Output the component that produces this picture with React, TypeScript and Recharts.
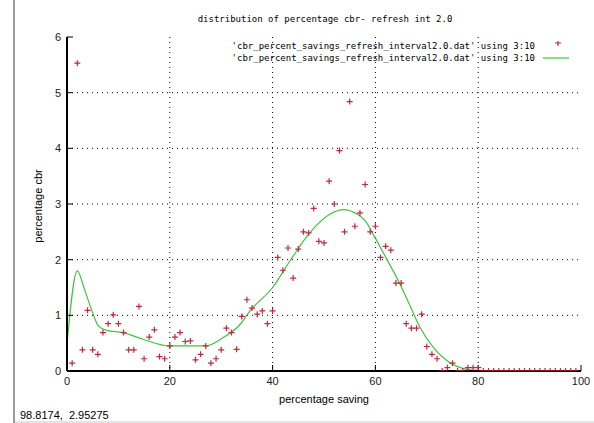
import React from 'react';
import {
  CartesianGrid,
  ComposedChart,
  Legend,
  Line,
  Scatter,
  XAxis,
  YAxis,
} from 'recharts';

// measured points, column 3 vs column 10
const pointX = [
  1, 2, 3, 4, 5, 6, 7, 8, 9, 10, 11, 12, 13, 14, 15, 16, 17, 18, 19, 20,
  21, 22, 23, 24, 25, 26, 27, 28, 29, 30, 31, 32, 33, 34, 35, 36, 37, 38, 39, 40,
  41, 42, 43, 44, 45, 46, 47, 48, 49, 50, 51, 52, 53, 54, 55, 56, 57, 58, 59, 60,
  61, 62, 63, 64, 65, 66, 67, 68, 69, 70, 71, 72, 73, 74, 75, 76, 77, 78, 79, 80,
  81, 82, 83, 84, 85, 86, 87, 88, 89, 90, 91, 92, 93, 94, 95, 96, 97, 98, 99,
];
const pointY = [
  0.14, 5.53, 0.38, 1.09, 0.38, 0.3, 0.69, 0.85, 1.01, 0.85, 0.69, 0.38, 0.38, 1.16, 0.22, 0.61, 0.74, 0.26, 0.22, 0.45,
  0.61, 0.69, 0.53, 0.54, 0.2, 0.3, 0.45, 0.14, 0.22, 0.38, 0.77, 0.69, 0.39, 0.98, 1.28, 1.13, 1.02, 1.08, 0.85, 1.08,
  2.04, 1.81, 2.21, 1.67, 2.19, 2.5, 2.48, 2.92, 2.33, 2.3, 3.41, 3.0, 3.96, 2.5, 4.84, 2.6, 2.84, 3.35, 2.5, 2.6,
  2.04, 2.24, 2.17, 1.58, 1.58, 0.85, 0.77, 0.77, 1.02, 0.44, 0.3, 0.22, 0, 0.06, 0.14, 0, 0, 0.06, 0.06, 0.06,
  0, 0, 0, 0, 0, 0, 0, 0, 0, 0, 0, 0, 0, 0, 0, 0, 0, 0, 0,
];

// smoothed curve
const curveX = [
  0, 2, 3.5, 5.1, 6.1, 7.7, 10.9, 14.8, 20, 23.3, 27, 30.4, 33.7, 35.6, 40, 43.4,
  47.3, 51.2, 53.8, 56.4, 58, 59.9, 62.2, 64.8, 66.7, 68.7, 71.3, 74.5, 77.8, 79.6, 82, 100,
];
const curveY = [
  0.48, 1.8, 1.44, 1.02, 0.81, 0.73, 0.69, 0.57, 0.45, 0.45, 0.45, 0.6, 0.84, 1.08, 1.5, 1.98,
  2.49, 2.82, 2.9, 2.82, 2.7, 2.4, 2.01, 1.56, 1.18, 0.78, 0.42, 0.15, 0.03, 0.01, 0, 0,
];

const xTicks = [0, 20, 40, 60, 80, 100];
const yTicks = [0, 1, 2, 3, 4, 5, 6];

const seriesName = "'cbr_percent_savings_refresh_interval2.0.dat' using 3:10";
const title = 'distribution of percentage cbr- refresh int 2.0';
const statusText = '98.8174,  2.95275';

const red = '#c0283c';
const green = '#3ec43e';
const mono = '"DejaVu Sans Mono", monospace';
const sans = '"Liberation Sans", Arial, sans-serif';

const points = pointX.map((x, i) => ({ x, y: pointY[i] }));
const curve = curveX.map((x, i) => ({ x, y: curveY[i] }));

function Plus(props: any) {
  const { cx, cy } = props;
  if (cx == null || cy == null) return null;
  return (
    <path
      d={`M${cx - 3},${cy}H${cx + 3}M${cx},${cy - 3}V${cy + 3}`}
      stroke={red}
      strokeWidth={1.2}
      fill="none"
    />
  );
}

function KeyBox() {
  const row = (mark: React.ReactNode) => (
    <div style={{ display: 'flex', alignItems: 'center', height: 11.7 }}>
      <span style={{ fontFamily: mono, fontSize: 9, color: '#000', whiteSpace: 'pre' }}>
        {seriesName}
      </span>
      <svg width={36} height={10} style={{ marginLeft: 3 }}>
        {mark}
      </svg>
    </div>
  );
  return (
    <div style={{ display: 'flex', flexDirection: 'column', alignItems: 'flex-end' }}>
      {row(<path d="M17,2H23M20,-1V5" stroke={red} strokeWidth={1.2} />)}
      {row(<line x1={5} x2={31} y1={5} y2={5} stroke={green} strokeWidth={1.2} />)}
    </div>
  );
}

const tickStyle = { fontFamily: sans, fontSize: 11, fill: '#222' };

export default function App() {
  return (
    <div
      style={{
        position: 'fixed',
        left: 0,
        top: 0,
        width: 594,
        height: 423,
        background: '#fff',
        overflow: 'hidden',
      }}
    >
      <div style={{ position: 'absolute', left: 13, top: 0, width: 2, height: 423, background: '#9a9a9a' }} />
      <div style={{ position: 'absolute', left: 15, top: 421, width: 579, height: 2, background: '#e4e4e4' }} />
      <div
        style={{
          position: 'absolute',
          left: 0,
          width: 650,
          top: 14,
          textAlign: 'center',
          fontFamily: mono,
          fontSize: 9,
          whiteSpace: 'pre',
        }}
      >
        {title}
      </div>
      <div
        style={{
          position: 'absolute',
          left: 38,
          top: 206,
          transform: 'translate(-50%, -50%) rotate(-90deg)',
          fontFamily: sans,
          fontSize: 11,
          whiteSpace: 'nowrap',
        }}
      >
        percentage cbr
      </div>
      <div
        style={{
          position: 'absolute',
          left: 324,
          top: 399,
          transform: 'translate(-50%, -50%)',
          fontFamily: sans,
          fontSize: 11,
          whiteSpace: 'nowrap',
        }}
      >
        percentage saving
      </div>
      <div
        style={{
          position: 'absolute',
          left: 20,
          top: 415,
          transform: 'translateY(-50%)',
          fontFamily: sans,
          fontSize: 11,
          whiteSpace: 'pre',
        }}
      >
        {statusText}
      </div>
      <ComposedChart
        width={594}
        height={423}
        margin={{ top: 37, right: 13, bottom: 32, left: 37 }}
      >
        <CartesianGrid
          stroke="#000"
          strokeDasharray="1 4"
          horizontalValues={[1, 2, 3, 4, 5]}
          verticalValues={[20, 40, 60, 80]}
        />
        <XAxis
          dataKey="x"
          type="number"
          domain={[0, 100]}
          ticks={xTicks}
          height={20}
          tickSize={-6}
          tickMargin={12}
          tick={tickStyle}
          axisLine={{ stroke: '#000', strokeWidth: 2 }}
          tickLine={{ stroke: '#000' }}
          allowDataOverflow
        />
        <XAxis
          xAxisId="top"
          orientation="top"
          type="number"
          domain={[0, 100]}
          ticks={xTicks}
          height={0}
          tickSize={-6}
          tick={false}
          axisLine={{ stroke: '#000', strokeWidth: 2 }}
          tickLine={{ stroke: '#000' }}
        />
        <YAxis
          dataKey="y"
          type="number"
          domain={[0, 6]}
          ticks={yTicks}
          width={30}
          tickSize={-6}
          tickMargin={12}
          tick={tickStyle}
          axisLine={{ stroke: '#000', strokeWidth: 2 }}
          tickLine={{ stroke: '#000' }}
          allowDataOverflow
        />
        <YAxis
          yAxisId="right"
          orientation="right"
          type="number"
          domain={[0, 6]}
          ticks={yTicks}
          width={0}
          tickSize={-6}
          tick={false}
          axisLine={{ stroke: '#000', strokeWidth: 2 }}
          tickLine={{ stroke: '#000' }}
        />
        <Legend
          content={() => <KeyBox />}
          layout="vertical"
          align="center"
          verticalAlign="middle"
          wrapperStyle={{ left: 0, top: 40.5, width: 574 }}
        />
        <Scatter
          name={seriesName}
          data={points}
          dataKey="y"
          shape={<Plus />}
          isAnimationActive={false}
        />
        <Line
          name={seriesName}
          data={curve}
          dataKey="y"
          type="monotone"
          stroke={green}
          strokeWidth={1.2}
          dot={false}
          activeDot={false}
          isAnimationActive={false}
        />
      </ComposedChart>
    </div>
  );
}
